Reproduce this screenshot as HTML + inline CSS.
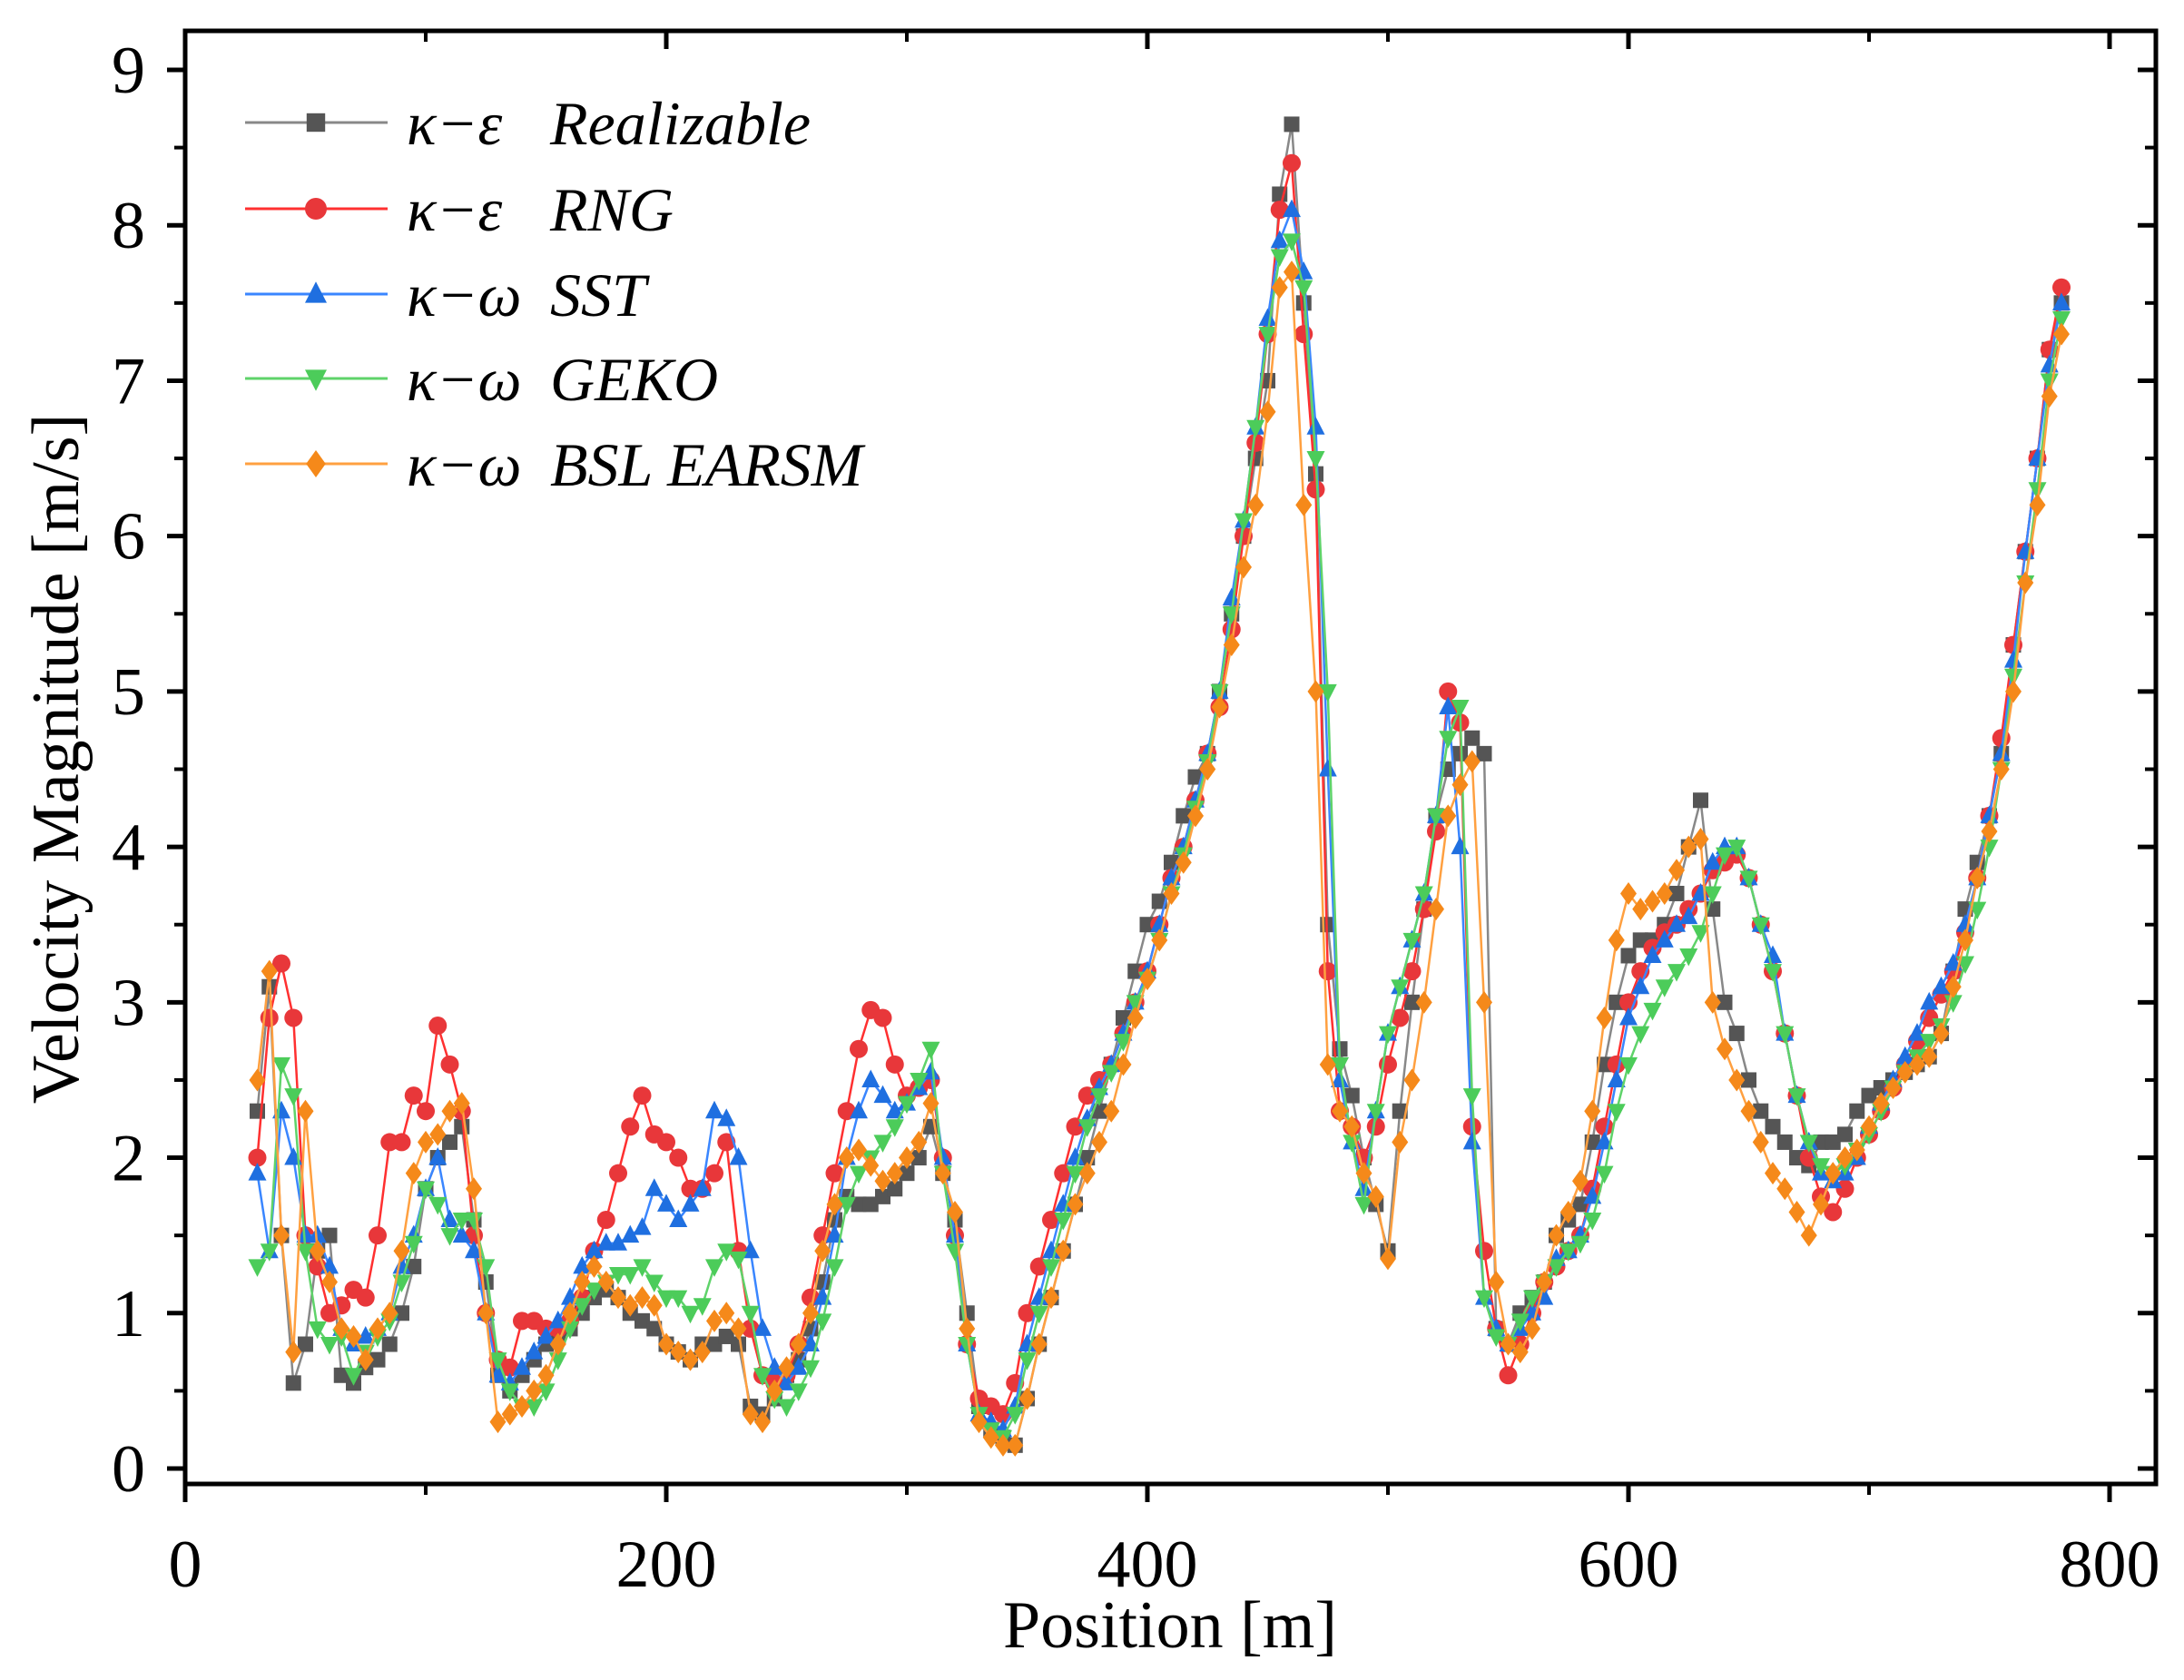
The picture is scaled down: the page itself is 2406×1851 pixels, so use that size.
<!DOCTYPE html>
<html><head><meta charset="utf-8"><style>
html,body{margin:0;padding:0;background:#fff;}
svg{display:block;}
svg text{font-family:"Liberation Serif","Times New Roman",serif;}
</style></head><body>
<svg id="chart" width="2406" height="1851" viewBox="0 0 2406 1851" xmlns="http://www.w3.org/2000/svg" font-family="Liberation Serif, serif">
<rect x="0" y="0" width="2406" height="1851" fill="#fff"/>
<g id="marks"></g>
<g id="axes"></g>
<text x="1289" y="1815" font-size="74" text-anchor="middle" font-family="Liberation Serif, serif">Position [m]</text>
<text transform="translate(86,836) rotate(-90)" font-size="74" text-anchor="middle" font-family="Liberation Serif, serif">Velocity Magnitude [m/s]</text>
<g id="legend"></g>
</svg>
<script>
const positions = [30,35,40,45,50,55,60,65,70,75,80,85,90,95,100,105,110,115,120,125,130,135,140,145,150,155,160,165,170,175,180,185,190,195,200,205,210,215,220,225,230,235,240,245,250,255,260,265,270,275,280,285,290,295,300,305,310,315,320,325,330,335,340,345,350,355,360,365,370,375,380,385,390,395,400,405,410,415,420,425,430,435,440,445,450,455,460,465,470,475,480,485,490,495,500,505,510,515,520,525,530,535,540,545,550,555,560,565,570,575,580,585,590,595,600,605,610,615,620,625,630,635,640,645,650,655,660,665,670,675,680,685,690,695,700,705,710,715,720,725,730,735,740,745,750,755,760,765,770,775,780];
const realizable = [2.3,3.1,1.5,0.55,0.8,1.4,1.5,0.6,0.55,0.65,
0.7,0.8,1.0,1.3,1.8,2.0,2.1,2.2,1.6,1.2,
0.6,0.5,0.6,0.7,0.8,0.85,0.9,1.0,1.1,1.15,
1.1,1.0,0.95,0.9,0.8,0.75,0.7,0.8,0.8,0.85,
0.8,0.4,0.35,0.45,0.6,0.7,0.9,1.2,1.6,1.75,
1.7,1.7,1.75,1.8,1.9,2.0,2.2,1.9,1.6,1.0,
0.4,0.25,0.2,0.15,0.45,0.8,1.1,1.4,1.7,2.0,
2.3,2.6,2.9,3.2,3.5,3.65,3.9,4.2,4.45,4.6,
5.0,5.5,6.0,6.5,7.0,8.2,8.65,7.5,6.4,3.5,
2.7,2.4,2.0,1.7,1.4,2.3,3.0,3.6,4.2,4.5,
4.6,4.7,4.6,0.9,0.8,1.0,1.1,1.2,1.5,1.6,
1.7,2.1,2.6,3.0,3.3,3.4,3.4,3.5,3.7,4.0,
4.3,3.6,3.0,2.8,2.5,2.3,2.2,2.1,2.0,1.95,
2.1,2.1,2.15,2.3,2.4,2.45,2.5,2.55,2.6,2.65,
2.8,3.2,3.6,3.9,4.2,4.6,5.3,5.9,6.5,7.2,7.5];
const rng = [2.0,2.9,3.25,2.9,1.5,1.3,1.0,1.05,1.15,1.1,
1.5,2.1,2.1,2.4,2.3,2.85,2.6,2.3,1.5,1.0,
0.7,0.65,0.95,0.95,0.9,0.9,0.95,1.1,1.4,1.6,
1.9,2.2,2.4,2.15,2.1,2.0,1.8,1.8,1.9,2.1,
1.4,0.9,0.6,0.55,0.6,0.8,1.1,1.5,1.9,2.3,
2.7,2.95,2.9,2.6,2.4,2.45,2.5,2.0,1.5,0.8,
0.45,0.4,0.35,0.55,1.0,1.3,1.6,1.9,2.2,2.4,
2.5,2.6,2.8,3.0,3.2,3.5,3.8,4.0,4.3,4.6,
4.9,5.4,6.0,6.6,7.3,8.1,8.4,7.3,6.3,3.2,
2.3,2.2,2.0,2.2,2.6,2.9,3.2,3.6,4.1,5.0,
4.8,2.2,1.4,0.9,0.6,0.8,1.0,1.2,1.3,1.4,
1.5,1.8,2.2,2.6,3.0,3.2,3.35,3.45,3.5,3.6,
3.7,3.85,3.9,3.95,3.8,3.5,3.2,2.8,2.4,2.0,
1.75,1.65,1.8,2.0,2.15,2.3,2.45,2.6,2.75,2.9,
3.05,3.2,3.45,3.8,4.2,4.7,5.3,5.9,6.5,7.2,7.6];
const sst = [1.9,1.4,2.3,2.0,1.5,1.5,1.3,0.9,0.8,0.85,
0.9,1.0,1.3,1.5,1.8,2.0,1.6,1.5,1.4,1.0,
0.6,0.55,0.65,0.75,0.85,0.95,1.1,1.3,1.4,1.45,
1.45,1.5,1.55,1.8,1.7,1.6,1.7,1.8,2.3,2.25,
2.0,1.4,0.9,0.65,0.55,0.65,0.8,1.1,1.5,2.0,
2.3,2.5,2.4,2.3,2.35,2.45,2.55,2.0,1.5,0.8,
0.35,0.3,0.25,0.4,0.8,1.1,1.4,1.7,2.0,2.25,
2.45,2.6,2.8,3.0,3.2,3.5,3.8,4.0,4.3,4.6,
5.0,5.6,6.1,6.7,7.4,7.9,8.1,7.7,6.7,4.5,
2.5,2.1,1.8,2.3,2.8,3.1,3.4,3.7,4.2,4.9,
4.0,2.1,1.1,0.9,0.8,0.9,1.0,1.1,1.35,1.4,
1.5,1.75,2.1,2.5,2.9,3.1,3.3,3.4,3.5,3.55,
3.7,3.9,4.0,4.0,3.8,3.5,3.3,2.8,2.4,2.1,
1.9,1.85,1.9,2.0,2.2,2.35,2.5,2.65,2.8,3.0,
3.1,3.25,3.5,3.8,4.2,4.6,5.2,5.9,6.5,7.1,7.5];
const geko = [1.3,1.4,2.6,2.4,1.4,0.9,0.8,0.85,0.6,0.75,
0.85,0.95,1.2,1.45,1.8,1.7,1.5,1.6,1.6,1.3,
0.7,0.5,0.4,0.4,0.5,0.7,0.9,1.05,1.15,1.2,
1.25,1.25,1.3,1.2,1.1,1.1,1.0,1.05,1.3,1.4,
1.35,1.0,0.6,0.45,0.4,0.5,0.65,0.95,1.3,1.7,
1.9,2.0,2.1,2.2,2.35,2.5,2.7,1.9,1.4,0.8,
0.35,0.25,0.2,0.35,0.7,1.0,1.3,1.6,1.9,2.2,
2.4,2.55,2.75,3.0,3.15,3.4,3.7,3.95,4.25,4.55,
5.0,5.5,6.1,6.7,7.3,7.8,7.9,7.6,6.5,5.0,
2.6,2.1,1.7,2.3,2.8,3.1,3.4,3.7,4.2,4.7,
4.9,2.4,1.1,0.85,0.8,0.95,1.1,1.2,1.3,1.4,
1.45,1.6,1.9,2.3,2.6,2.8,2.95,3.1,3.2,3.3,
3.45,3.7,3.95,4.0,3.8,3.5,3.2,2.8,2.4,2.1,
1.95,1.9,1.95,2.05,2.15,2.3,2.45,2.55,2.65,2.75,
2.85,3.0,3.25,3.6,4.0,4.5,5.1,5.7,6.3,7.0,7.4];
const earsm = [2.5,3.2,1.5,0.75,2.3,1.4,1.2,0.9,0.85,0.7,
0.9,1.0,1.4,1.9,2.1,2.15,2.3,2.35,1.8,1.0,
0.3,0.35,0.4,0.5,0.6,0.8,1.0,1.2,1.3,1.2,
1.1,1.05,1.1,1.05,0.8,0.75,0.7,0.75,0.95,1.0,
0.9,0.35,0.3,0.5,0.65,0.8,1.0,1.4,1.7,2.0,
2.05,1.95,1.85,1.9,2.0,2.1,2.35,1.9,1.65,0.9,
0.3,0.2,0.15,0.15,0.45,0.8,1.1,1.4,1.7,1.9,
2.1,2.3,2.6,2.9,3.15,3.4,3.7,3.9,4.2,4.5,
4.9,5.3,5.8,6.2,6.8,7.6,7.7,6.2,5.0,2.6,
2.3,2.2,1.9,1.75,1.35,2.1,2.5,3.0,3.6,4.2,
4.4,4.55,3.0,1.2,0.8,0.75,0.9,1.2,1.5,1.65,
1.85,2.3,2.9,3.4,3.7,3.6,3.65,3.7,3.85,4.0,
4.05,3.0,2.7,2.5,2.3,2.1,1.9,1.8,1.65,1.5,
1.7,1.9,2.0,2.05,2.2,2.35,2.45,2.55,2.6,2.65,
2.8,3.1,3.4,3.8,4.1,4.5,5.0,5.7,6.2,6.9,7.3];
const xTicks = [0,200,400,600,800];
const yTicks = [0,1,2,3,4,5,6,7,8,9];
const seriesNames = ["realizable","rng","sst","geko","bsl-earsm"];
const legendPrefix = ["κ−ε","κ−ε","κ−ω","κ−ω","κ−ω"];
const legendLabels = ["Realizable","RNG","SST","GEKO","BSL EARSM"];

const NS="http://www.w3.org/2000/svg";
const FF="Liberation Serif, serif";
const L=204,R=2375,T=34,B=1635;
const X=v=>204+v*(2324-204)/800;
const Y=v=>1618-v*(1618-77)/9;
function mk(tag,attrs,parent){const e=document.createElementNS(NS,tag);for(const k in attrs)e.setAttribute(k,attrs[k]);parent.appendChild(e);return e;}
const marks=document.getElementById('marks'),axes=document.getElementById('axes'),legend=document.getElementById('legend');
const styles=[
 {data:realizable,line:"#888",fill:"#555",shape:"square"},
 {data:rng,line:"#ff3030",fill:"#e8373a",shape:"circle"},
 {data:sst,line:"#3a86ff",fill:"#1f6fe0",shape:"up"},
 {data:geko,line:"#5fd36a",fill:"#4ccc5a",shape:"down"},
 {data:earsm,line:"#ffa040",fill:"#f5891a",shape:"diamond"}];
function marker(shape,cx,cy,s,fill,parent){
 let e;
 if(shape==="square")e=mk('rect',{x:cx-s*0.85,y:cy-s*0.85,width:s*1.7,height:s*1.7,fill:fill},parent);
 else if(shape==="circle")e=mk('circle',{cx:cx,cy:cy,r:s,fill:fill},parent);
 else if(shape==="up")e=mk('polygon',{points:`${cx},${cy-s*1.15} ${cx+s},${cy+s*0.8} ${cx-s},${cy+s*0.8}`,fill:fill},parent);
 else if(shape==="down")e=mk('polygon',{points:`${cx},${cy+s*1.15} ${cx+s},${cy-s*0.8} ${cx-s},${cy-s*0.8}`,fill:fill},parent);
 else e=mk('polygon',{points:`${cx},${cy-s*1.25} ${cx+s*0.9},${cy} ${cx},${cy+s*1.25} ${cx-s*0.9},${cy}`,fill:fill},parent);
 return e;
}
styles.forEach((st,si)=>{
 const g=mk('g',{},marks);
 
 
 const pts=st.data.map((v,i)=>X(positions[i])+","+Y(v)).join(" ");
 const pl=mk('polyline',{points:pts,fill:"none",stroke:st.line,"stroke-width":2.5},g);
 
 
 st.data.forEach((v,i)=>{
  const m=marker(st.shape,X(positions[i]),Y(v),10,st.fill,g);
  
  
 });
});
const box=mk('rect',{x:L,y:T,width:R-L,height:B-T,fill:"none",stroke:"#000","stroke-width":5},axes);


xTicks.forEach(v=>{
 const x=X(v);
 mk('line',{x1:x,y1:B,x2:x,y2:B+20,stroke:"#000","stroke-width":5},axes);
 mk('line',{x1:x,y1:T,x2:x,y2:T+20,stroke:"#000","stroke-width":5},axes);
 const t=mk('text',{x:x,y:1748,"font-size":74,"text-anchor":"middle","font-family":FF},axes);
 t.textContent=v;
 
 
});
for(let v=100;v<800;v+=200){const x=X(v);mk('line',{x1:x,y1:B,x2:x,y2:B+12,stroke:"#000","stroke-width":4},axes);mk('line',{x1:x,y1:T,x2:x,y2:T+12,stroke:"#000","stroke-width":4},axes);}
yTicks.forEach(v=>{
 const y=Y(v);
 mk('line',{x1:L-20,y1:y,x2:L,y2:y,stroke:"#000","stroke-width":5},axes);
 mk('line',{x1:R-20,y1:y,x2:R,y2:y,stroke:"#000","stroke-width":5},axes);
 const t=mk('text',{x:160,y:y+25,"font-size":74,"text-anchor":"end","font-family":FF},axes);
 t.textContent=v;
 
 
 if(v<9){const ym=Y(v+0.5);mk('line',{x1:L-12,y1:ym,x2:L,y2:ym,stroke:"#000","stroke-width":4},axes);mk('line',{x1:R-12,y1:ym,x2:R,y2:ym,stroke:"#000","stroke-width":4},axes);}
});
const rowsY=[135,230,324,417,511];
styles.forEach((st,si)=>{
 const g=mk('g',{},legend);
 
 
 const y=rowsY[si];
 mk('line',{x1:270,y1:y,x2:427,y2:y,stroke:st.line,"stroke-width":3},g);
 marker(st.shape,348,y,12,st.fill,g);
 const t1=mk('text',{x:448,y:y+24,"font-size":68,"font-style":"italic","font-family":FF},g);
 t1.textContent=legendPrefix[si];
 const t2=mk('text',{x:606,y:y+24,"font-size":68,"font-style":"italic","font-family":FF},g);
 t2.textContent=legendLabels[si];
});
</script>
</body></html>
